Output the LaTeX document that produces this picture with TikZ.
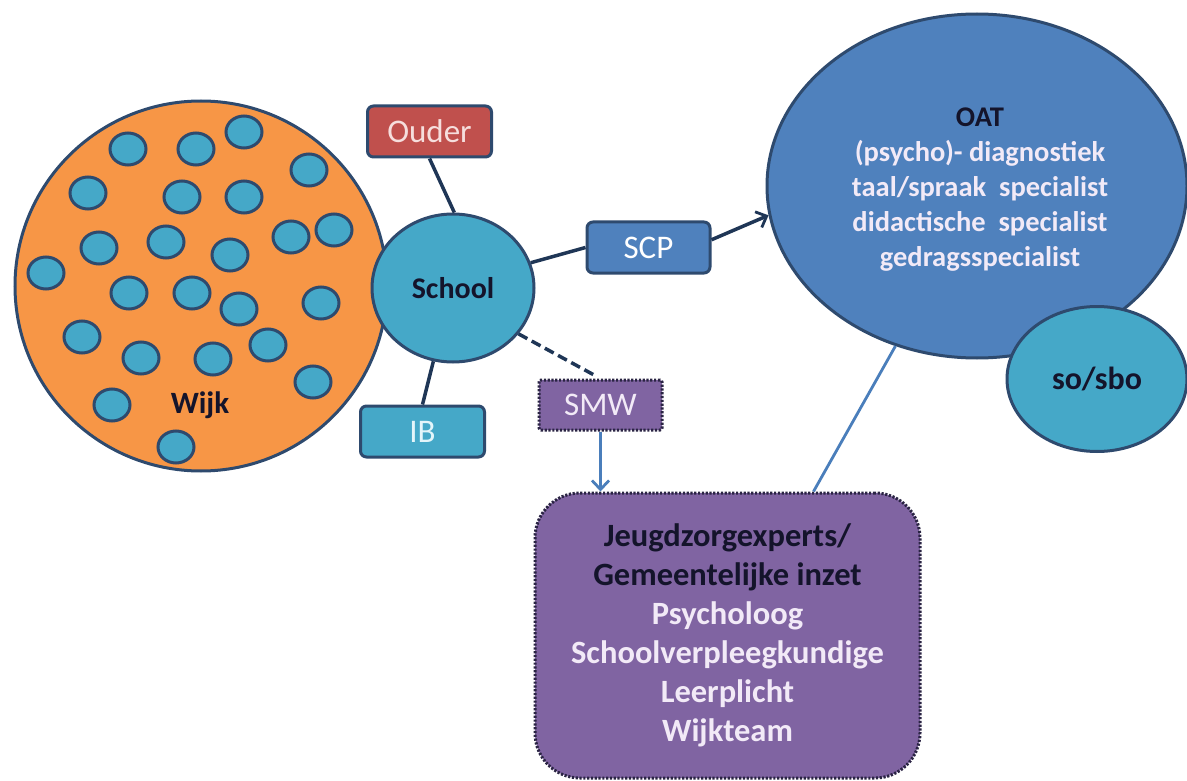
\documentclass[tikz,border=0pt]{standalone}
\usepackage{fontspec}
\setmainfont{Carlito}
\usetikzlibrary{shapes.geometric,arrows.meta}

\definecolor{edge}{HTML}{2E4A6E}
\definecolor{navy}{HTML}{1F3656}
\definecolor{steel}{HTML}{4A7EBB}
\definecolor{orangefill}{HTML}{F79646}
\definecolor{tealfill}{HTML}{45A8C8}
\definecolor{bluefill}{HTML}{4F81BD}
\definecolor{redfill}{HTML}{C0504D}
\definecolor{purplefill}{HTML}{8064A2}
\definecolor{inkdark}{HTML}{14142B}
\definecolor{lavender}{HTML}{F2EAF7}
\definecolor{pinklight}{HTML}{F6DEDD}
\definecolor{palecyan}{HTML}{E4F5FA}

\tikzset{
  blob/.style={ellipse, draw=edge, line width=3pt, inner sep=0pt},
  dot/.style={blob, fill=tealfill, minimum width=36pt, minimum height=32pt},
  tag/.style={rectangle, rounded corners=6pt, draw=edge, line width=3pt,
    minimum width=124pt, minimum height=51pt, inner sep=0pt,
    font=\fontsize{33}{39}\selectfont},
  dottedtag/.style={tag, rounded corners=2pt, draw=inkdark!80!purplefill,
    dash pattern=on 2.2pt off 1.6pt},
  link/.style={draw=navy, line width=3.5pt},
  softlink/.style={draw=steel, line width=2.8pt},
  barb/.style={-{Straight Barb[length=9pt,width=17pt,line width=2.8pt]}},
}

\begin{document}
\begin{tikzpicture}[x=1pt,y=-1pt]
\useasboundingbox (0,0) rectangle (1187,781);

% neighbourhood with its schools
\node[blob, fill=orangefill, minimum width=372pt, minimum height=370pt] (wijk) at (201,286) {};
\foreach \px/\py [count=\i] in {128/149,196/149,244/132,309/170,88/193,182/197,244/197,
    291/237,334/230,99/248,166/242,230/255,46/273,129/293,192/293,239/309,321/303,
    82/337,141/358,213/359,268/345,313/382,112/405,176/447}
  \node[dot] (d\i) at (\px,\py) {};
\node[font=\bfseries\fontsize{31}{37}\selectfont, text=inkdark] (wijklabel) at (200,405) {Wijk};

% the school and its partners
\node[blob, fill=tealfill, minimum width=162pt, minimum height=148pt,
  font=\bfseries\fontsize{30}{36}\selectfont, text=inkdark] (school) at (453,288) {School};
\node[tag, fill=redfill, text=pinklight] (ouder) at (429.5,131.5) {Ouder};
\node[tag, fill=bluefill, text=white, minimum width=123pt] (scp) at (648.5,247.5) {SCP};
\node[tag, fill=tealfill, text=palecyan] (ib) at (422.5,431.5) {IB};
\node[dottedtag, fill=purplefill, text=lavender, minimum width=123pt, minimum height=50pt] (smw) at (600.5,405) {SMW};

% OAT and special education
\node[blob, fill=bluefill, minimum width=420pt, minimum height=344pt] (oat) at (977,186) {};
\node[align=center, font=\bfseries\fontsize{28.5}{35}\selectfont, text=lavender] (oattxt) at (980,190)
  {\textcolor{inkdark}{OAT}\\(psycho)- diagnostiek\\taal/spraak\ \ specialist\\didactische\ \ specialist\\gedragsspecialist};
\node[blob, fill=tealfill, minimum width=180pt, minimum height=145pt,
  font=\bfseries\fontsize{32}{38}\selectfont, text=inkdark] (sbo) at (1097,379) {so/sbo};

% youth care experts
\node[dottedtag, fill=purplefill, rounded corners=45pt, minimum width=385pt, minimum height=285pt,
  align=center, font=\bfseries\fontsize{32.5}{39}\selectfont, text=lavender] (big) at (727.5,635.5)
  {\textcolor{inkdark}{Jeugdzorgexperts/}\\\textcolor{inkdark}{Gemeentelijke inzet}\\Psycholoog\\Schoolverpleegkundige\\Leerplicht\\Wijkteam};

% connectors
\draw[link] (ouder.south) -- (school.89);
\draw[link] (school.18) -- (scp.west);
\draw[link, barb] (scp.7) -- (oat.188);
\draw[link] (ib.north) -- (school.255);
\draw[link, dash pattern=on 10pt off 5pt, shorten >=8pt] (school.-35) -- (smw.north);
\draw[softlink, barb] (smw.south) -- (smw.south |- big.north);
\draw[softlink] (oat.-117) -- ([xshift=86pt]big.north);
\end{tikzpicture}
\end{document}
